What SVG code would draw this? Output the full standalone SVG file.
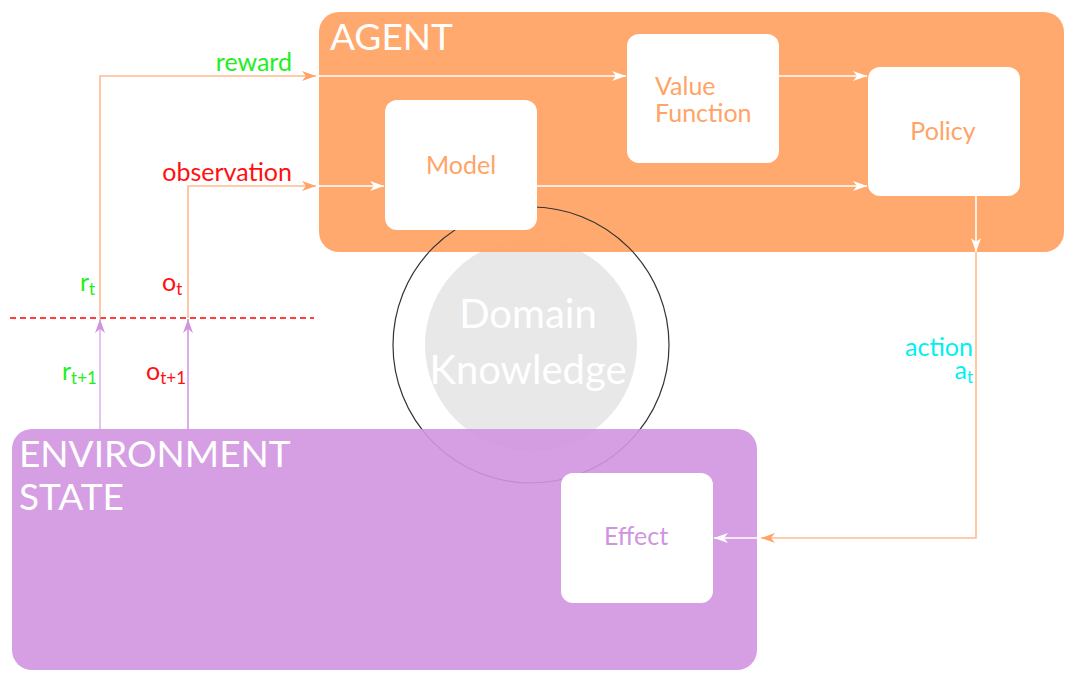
<svg xmlns="http://www.w3.org/2000/svg" width="1076" height="682" viewBox="0 0 1076 682">
<style>
text{font-family:Lato,"Open Sans","Liberation Sans",sans-serif}
.inner{fill:#fff}
.title{fill:#fff;font-size:37px}
.nlab{fill:#ffa466;font-size:25px}
.wline{stroke:#fff;stroke-width:1.6;fill:none}
.oline{stroke:#ffbb8c;stroke-width:1.6;fill:none}
.pline{stroke:#d39ae2;stroke-width:1.6;fill:none}
.lab{font-size:25px}
.sub{font-size:17px}
</style>
<defs>
<marker id="aw" markerWidth="15" markerHeight="10" refX="14" refY="5" orient="auto" markerUnits="userSpaceOnUse"><path d="M0,0 L14,5 L0,10 L4,5 z" fill="#fff"/></marker>
<marker id="ao" markerWidth="15" markerHeight="10" refX="14" refY="5" orient="auto" markerUnits="userSpaceOnUse"><path d="M0,0 L14,5 L0,10 L4,5 z" fill="#ffa466"/></marker>
<marker id="ap" markerWidth="15" markerHeight="10" refX="14" refY="5" orient="auto" markerUnits="userSpaceOnUse"><path d="M0,0 L14,5 L0,10 L4,5 z" fill="#d195e0"/></marker>
</defs>
<rect width="1076" height="682" fill="#fff"/>
<g id="domain">
<circle cx="531" cy="345" r="106" fill="#e8e8e8"/>
<text x="528" y="328" text-anchor="middle" fill="#fff" font-size="40">Domain</text>
<text x="528" y="384" text-anchor="middle" fill="#fff" font-size="40">Knowledge</text>
</g>
<g id="agent">
<rect x="319" y="12" width="745" height="240" rx="20" fill="#ffa466" opacity="0.95"/>
<text class="title" x="330" y="50">AGENT</text>
</g>
<circle id="domain-outline" cx="531" cy="345" r="138" fill="none" stroke="#333" stroke-width="1.2"/>
<g id="environment">
<rect x="12" y="429" width="745" height="241" rx="20" fill="#d195e0" opacity="0.9"/>
<text class="title" x="19" y="467">ENVIRONMENT</text>
<text class="title" x="19" y="510">STATE</text>
</g>
<g id="model">
<rect class="inner" x="385" y="100" width="152" height="130" rx="12"/>
<text class="nlab" x="461" y="174" text-anchor="middle">Model</text>
</g>
<g id="value">
<rect class="inner" x="627" y="34" width="152" height="129" rx="12"/>
<text class="nlab" x="655" y="95">Value</text>
<text class="nlab" x="655" y="122">Function</text>
</g>
<g id="policy">
<rect class="inner" x="868" y="67" width="152" height="129" rx="12"/>
<text class="nlab" x="943" y="140" text-anchor="middle">Policy</text>
</g>
<g id="effect">
<rect class="inner" x="561" y="473" width="152" height="130" rx="12"/>
<text x="636" y="545" text-anchor="middle" fill="#d195e0" font-size="25">Effect</text>
</g>
<g id="connectors">
<line x1="10" y1="318" x2="314" y2="318" stroke="#ff0000" stroke-width="1.3" stroke-dasharray="6,4"/>
<polyline class="oline" points="100,318 100,76 316,76" marker-end="url(#ao)"/>
<polyline class="oline" points="188,318 188,186 316,186" marker-end="url(#ao)"/>
<line class="wline" x1="319" y1="76" x2="626" y2="76" marker-end="url(#aw)"/>
<line class="wline" x1="319" y1="186" x2="384" y2="186" marker-end="url(#aw)"/>
<line class="wline" x1="779" y1="76" x2="867" y2="76" marker-end="url(#aw)"/>
<line class="wline" x1="537" y1="186" x2="867" y2="186" marker-end="url(#aw)"/>
<line class="wline" x1="976" y1="196" x2="976" y2="252" marker-end="url(#aw)"/>
<polyline class="oline" points="976,252 976,538 761,538" marker-end="url(#ao)"/>
<line class="wline" x1="757" y1="538" x2="714" y2="538" marker-end="url(#aw)"/>
<line stroke="#dfb5ea" stroke-width="1.6" x1="100" y1="429" x2="100" y2="319" marker-end="url(#ap)"/>
<line class="pline" x1="188" y1="429" x2="188" y2="319" marker-end="url(#ap)"/>
</g>
<g id="labels">
<text class="lab" x="292" y="71" text-anchor="end" fill="#22ee22">reward</text>
<text class="lab" x="292" y="181" text-anchor="end" fill="#ff1010">observation</text>
<text class="lab" x="80" y="291" fill="#22ee22">r<tspan class="sub" dy="4">t</tspan></text>
<text class="lab" x="162" y="291" fill="#ff1010">o<tspan class="sub" dy="4">t</tspan></text>
<text class="lab" x="62" y="380" fill="#22ee22">r<tspan class="sub" dy="4">t+1</tspan></text>
<text class="lab" x="146" y="380" fill="#ff1010">o<tspan class="sub" dy="4">t+1</tspan></text>
<text class="lab" x="973" y="356" text-anchor="end" fill="#00f0f0">action</text>
<text class="lab" x="973" y="379" text-anchor="end" fill="#00f0f0">a<tspan class="sub" dy="4">t</tspan></text>
</g>
</svg>
